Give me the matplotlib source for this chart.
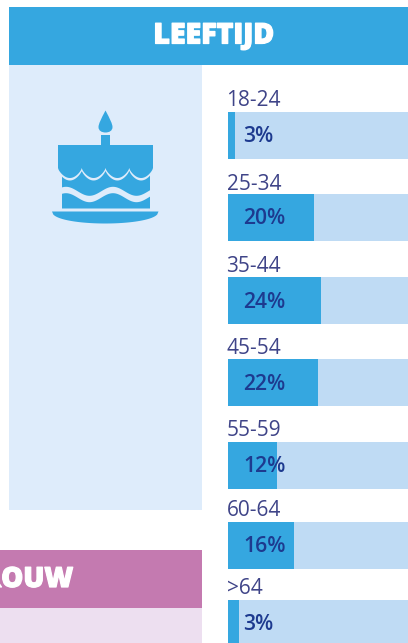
import numpy as np
import matplotlib
matplotlib.use("Agg")
import matplotlib.pyplot as plt
import matplotlib.patheffects as pe
from matplotlib.patches import Rectangle, Polygon, PathPatch
from matplotlib.path import Path

# ---- data ----
categories = ["18-24", "25-34", "35-44", "45-54", "55-59", "60-64", ">64"]
value_labels = ["3%", "20%", "24%", "22%", "12%", "16%", "3%"]
# bar lengths (percent)
bar_values = [1.95, 21.0, 22.9, 22.0, 12.0, 16.1, 2.9]
title = "LEEFTIJD"
second_title = "VROUW"

# ---- layout (pixels) ----
W, H = 408, 643
BLUE, LIGHT, TRACK = "#35a7e0", "#deecfb", "#bfdbf4"
PINK, LPINK = "#c47ab0", "#eddff0"
LABEL, VALUE = "#3f4488", "#1d3a8f"
bar_tops = [112, 194, 277, 359, 441.5, 521.5, 599.5]
label_base = [106.5, 189.5, 272.5, 354.5, 436.5, 516.5, 594.5]
bar_h = 47
bar_left = 227.5
px_per_pct = 4.1
FONT = "Open Sans"

fig = plt.figure(figsize=(W / 100, H / 100), dpi=100, facecolor="white")
bg = fig.add_axes([0, 0, 1, 1])
bg.set_xlim(0, W)
bg.set_ylim(H, 0)
bg.axis("off")

bg.add_patch(Rectangle((9, 7), W - 9, 58, fc=BLUE, ec="none"))
bg.add_patch(Rectangle((9, 65), 193, 445, fc=LIGHT, ec="none"))
bg.add_patch(Rectangle((0, 550), 202, 58, fc=PINK, ec="none"))
bg.add_patch(Rectangle((0, 608), 202, 35, fc=LPINK, ec="none"))

fat = [pe.withStroke(linewidth=0.9, foreground="white")]
bg.text(214, 36, title, color="white", fontsize=20.5, fontweight="heavy",
        family=FONT, ha="center", va="center", path_effects=fat)
bg.text(73, 579.5, second_title, color="white", fontsize=20, fontweight="heavy",
        family=FONT, ha="right", va="center", clip_on=True, path_effects=fat)

# ---- cake icon ----
flame = Path([(105.5, 110.5), (101, 119), (98.5, 124), (98.5, 127), (98.5, 131), (102, 132.5),
              (105.5, 132.5), (109, 132.5), (112.5, 131), (112.5, 127), (112.5, 124), (110, 119),
              (105.5, 110.5)],
             [Path.MOVETO] + [Path.CURVE4] * 12)
bg.add_patch(PathPatch(flame, fc=BLUE, ec="none"))
bg.add_patch(Rectangle((101, 135), 9, 11, fc=BLUE, ec="none"))

period = (153 - 58) / 4


def scallop(x, base):
    return base + 10 * np.abs(np.sin(np.pi * (x - 58) / period)) ** 0.7


def wave(x):
    return 194.5 - 4.5 * np.cos(2 * np.pi * (x - 113) / 47)


xs = np.linspace(58, 153, 161)
top = np.column_stack([np.r_[58, 153, xs[::-1]], np.r_[145, 145, scallop(xs, 168)[::-1]]])
bg.add_patch(Polygon(top, fc=BLUE, ec="none"))

xm = np.linspace(62, 150, 141)
mid = np.column_stack([np.r_[xm, xm[::-1]], np.r_[scallop(xm, 170.5), (wave(xm) - 3.2)[::-1]]])
bg.add_patch(Polygon(mid, fc=BLUE, ec="none"))

lower = np.column_stack([np.r_[xm, 150, 62], np.r_[wave(xm) + 3.2, 208.5, 208.5]])
bg.add_patch(Polygon(lower, fc=BLUE, ec="none"))

xp = np.linspace(52, 158.5, 81)
plate_low = 211.5 + 12 * np.clip(1 - ((xp - 105.25) / 53.25) ** 2, 0, 1) ** 0.45
plate = np.column_stack([np.r_[xp, xp[::-1]], np.r_[np.full_like(xp, 211.5), plate_low[::-1]]])
bg.add_patch(Polygon(plate, fc=BLUE, ec="none"))

# ---- bars ----
ax = fig.add_axes([bar_left / W, 0, (W - bar_left) / W, 1])
ax.patch.set_alpha(0)
track_len = (W - bar_left) / px_per_pct
ax.set_xlim(0, track_len)
ax.set_ylim(H, 0)
ax.axis("off")
ax.barh(bar_tops, [track_len] * len(bar_tops), height=bar_h, align="edge", color=TRACK, lw=0)
ax.barh(bar_tops, bar_values, height=bar_h, align="edge", color=BLUE, lw=0)

# text layer above the bars
fg = fig.add_axes([0, 0, 1, 1])
fg.patch.set_alpha(0)
fg.set_xlim(0, W)
fg.set_ylim(H, 0)
fg.axis("off")
for cat, val, t, b in zip(categories, value_labels, bar_tops, label_base):
    fg.text(226.5, b, cat, color=LABEL, fontsize=15, family=FONT, fontweight="normal",
            ha="left", va="baseline")
    fg.text(243, t + bar_h / 2 + 7, val, color=VALUE, fontsize=15.2, family=FONT,
            fontweight="semibold", ha="left", va="baseline")

fig.savefig("out.png", dpi=100)
